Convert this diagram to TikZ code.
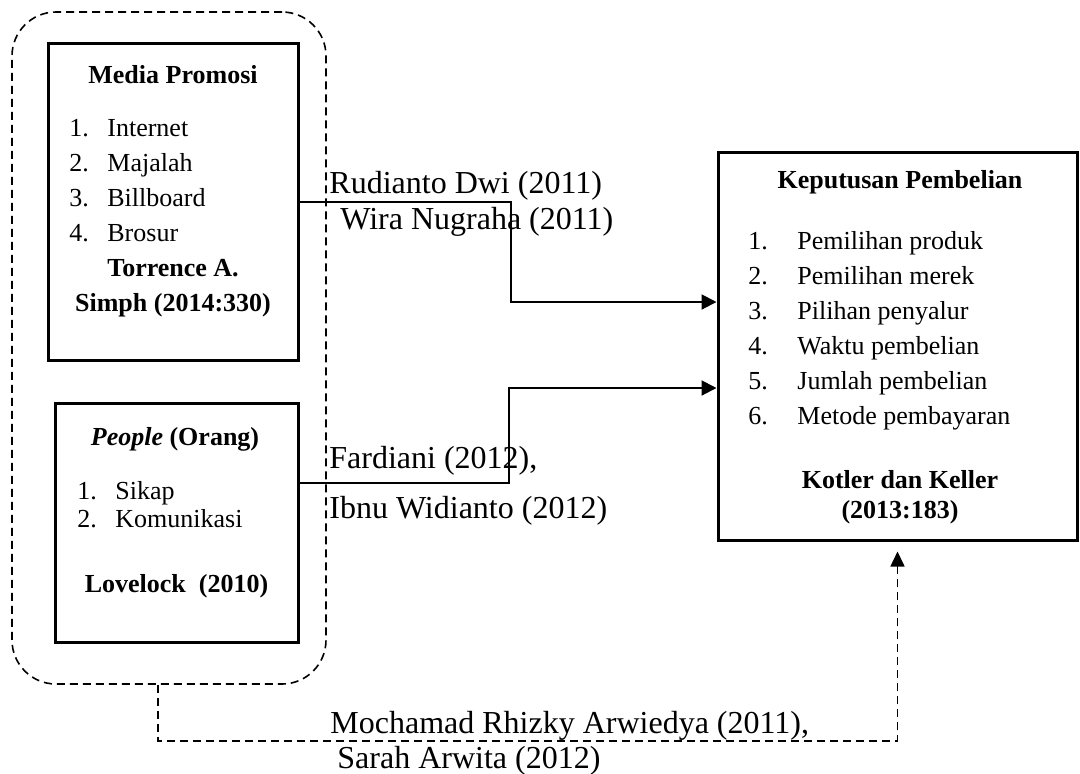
\documentclass[tikz,border=0pt]{standalone}
\usepackage{fontspec}
\setmainfont{Liberation Serif}
\usetikzlibrary{arrows.meta, positioning}
\tikzstyle{block} = [rectangle, draw=black, line width=1.5pt, inner sep=0pt]
\tikzstyle{outerbox} = [rectangle, draw=black, line width=0.8pt, dash pattern=on 4pt off 2.5pt, rounded corners=22pt, inner sep=0pt]
\tikzstyle{boxtext} = [inner sep=0pt, font=\fontsize{13}{17.5}\selectfont]
\tikzstyle{boxtitle} = [inner sep=0pt, font=\fontsize{13}{17.5}\selectfont\bfseries]
\tikzstyle{reflabel} = [inner sep=0pt, anchor=west, font=\fontsize{16}{19}\selectfont]
\tikzstyle{arrow} = [line width=1pt, -{Triangle[length=7.5pt,width=7.5pt]}]
\tikzstyle{linkarrow} = [line width=0.8pt, dash pattern=on 4pt off 2.5pt, -{Triangle[length=7.5pt,width=7pt]}, shorten >=5pt]
\newcommand{\itemno}[2][19pt]{\makebox[#1][l]{#2}}

\begin{document}
\begin{tikzpicture}[x=0.5pt, y=-0.5pt]
\useasboundingbox (0,0) rectangle (1080,773);
% frames
\node (group) [outerbox, minimum width=157pt, minimum height=336pt] at (169,348) {};
\node (media) [block, minimum width=125pt, minimum height=158.5pt] at (173,201.5) {};
\node (people) [block, minimum width=121.5pt, minimum height=119.5pt] at (176.5,522.5) {};
\node (keputusan) [block, minimum width=179.5pt, minimum height=194pt] at (897.5,346) {};
% media promosi
\node (mediatitle) [boxtitle] at (173,75) {Media Promosi};
\node (medialist) [boxtext, anchor=west, align=left] at (69,181) {\itemno{1.}Internet\\\itemno{2.}Majalah\\\itemno{3.}Billboard\\\itemno{4.}Brosur};
\node (mediasrc) [boxtitle, align=center] at (173,288) {Torrence A.\\Simph (2014:330)};
% people
\node (peopletitle) [boxtitle] at (175,439) {\textit{People} (Orang)};
\node (peoplelist) [boxtext, anchor=west, align=left] at (77,505) {\itemno{1.}Sikap\\[-3.5pt]\itemno{2.}Komunikasi};
\node (peoplesrc) [boxtitle] at (176.5,586) {Lovelock\ \ (2010)};
% keputusan pembelian
\node (keputusantitle) [boxtitle] at (900,182) {Keputusan Pembelian};
\node (keputusanlist) [boxtext, anchor=west, align=left] at (748,331) {\itemno[24.5pt]{1.}Pemilihan produk\\\itemno[24.5pt]{2.}Pemilihan merek\\\itemno[24.5pt]{3.}Pilihan penyalur\\\itemno[24.5pt]{4.}Waktu pembelian\\\itemno[24.5pt]{5.}Jumlah pembelian\\\itemno[24.5pt]{6.}Metode pembayaran};
\node (keputusansrc) [boxtitle, align=center, font=\fontsize{13}{15}\selectfont\bfseries] at (900,497) {Kotler dan Keller\\(2013:183)};
% connectors
\draw [arrow] (media.east) -- ++(211,0) |- ([yshift=22pt]keputusan.west);
\draw [arrow] ([yshift=19.75pt]people.east) -- ++(209,0) |- ([yshift=-21pt]keputusan.west);
\draw [linkarrow] ([xshift=-5.5pt]group.south) -- ++(0,56) -| (keputusan.south);
% labels
\node (rudianto) [reflabel] at (329,186) {Rudianto Dwi (2011)};
\node (wira) [reflabel] at (340,222) {Wira Nugraha (2011)};
\node (fardiani) [reflabel] at (329,461) {Fardiani (2012),};
\node (ibnu) [reflabel] at (329,511) {Ibnu Widianto (2012)};
\node (mochamad) [reflabel] at (330,726) {Mochamad Rhizky Arwiedya (2011),};
\node (sarah) [reflabel] at (337,761) {Sarah Arwita (2012)};
\end{tikzpicture}
\end{document}
